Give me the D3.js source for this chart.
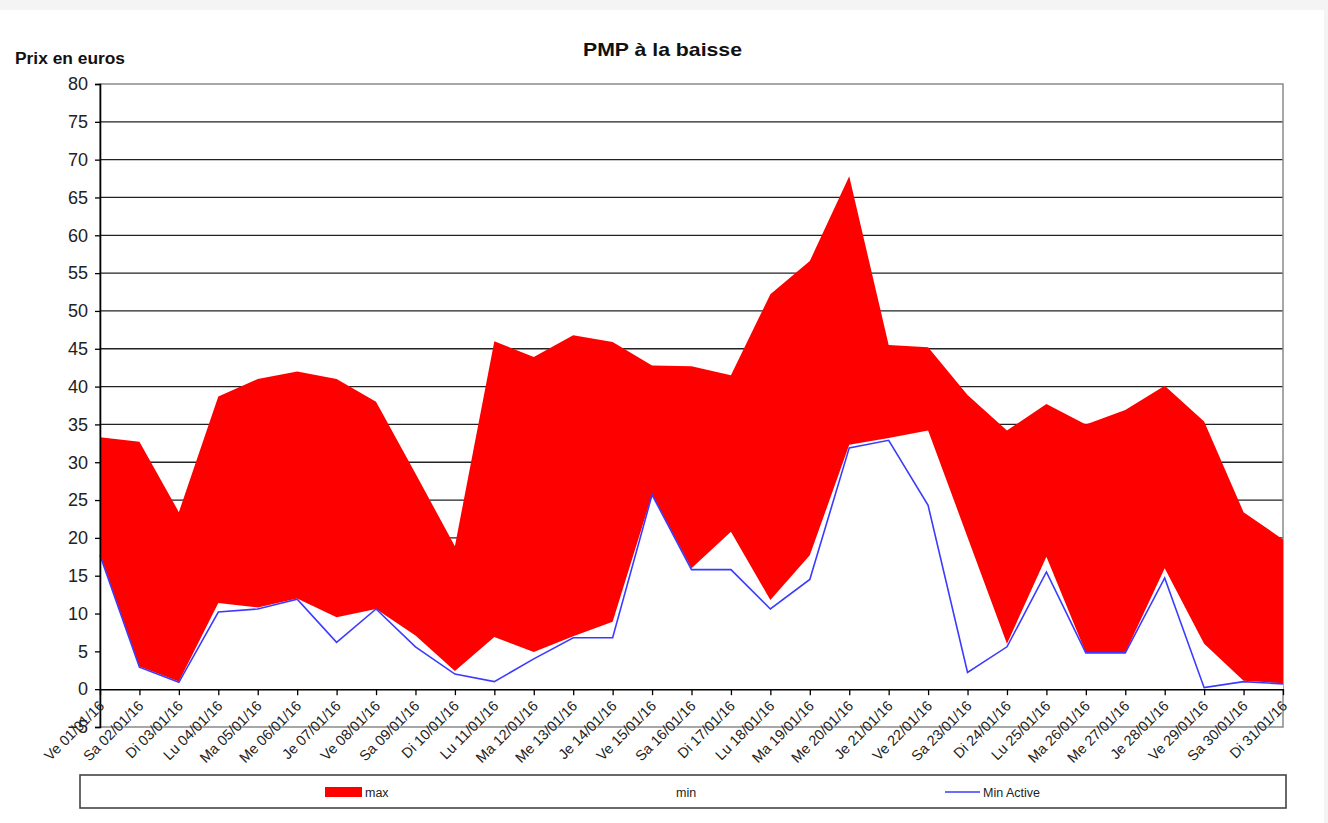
<!DOCTYPE html>
<html>
<head>
<meta charset="utf-8">
<script src="https://cdn.jsdelivr.net/npm/d3@7"></script>
<style>
  body { margin: 0; background: #f4f4f4; }
  svg { display: block; font-family: "Liberation Sans", Arial, sans-serif; }
</style>
</head>
<body>
<svg id="chart" width="1328" height="823"></svg>
<script>
const days = ["Ve 01/01/16", "Sa 02/01/16", "Di 03/01/16", "Lu 04/01/16", "Ma 05/01/16",
    "Me 06/01/16", "Je 07/01/16", "Ve 08/01/16", "Sa 09/01/16", "Di 10/01/16",
    "Lu 11/01/16", "Ma 12/01/16", "Me 13/01/16", "Je 14/01/16", "Ve 15/01/16",
    "Sa 16/01/16", "Di 17/01/16", "Lu 18/01/16", "Ma 19/01/16", "Me 20/01/16",
    "Je 21/01/16", "Ve 22/01/16", "Sa 23/01/16", "Di 24/01/16", "Lu 25/01/16",
    "Ma 26/01/16", "Me 27/01/16", "Je 28/01/16", "Ve 29/01/16", "Sa 30/01/16",
    "Di 31/01/16"]
const maxValues = [33.3, 32.7, 23.4, 38.7, 41.0, 42.0, 41.0, 38.0, 28.5, 18.9,
    46.0, 43.9, 46.8, 45.9, 42.8, 42.7, 41.5, 52.2, 56.6, 67.8,
    45.5, 45.2, 38.9, 34.2, 37.7, 35.0, 36.9, 40.1, 35.4, 23.4, 19.8]
const minValues = [17.8, 3.0, 1.0, 11.4, 10.8, 12.0, 9.5, 10.6, 7.1, 2.4,
    6.9, 4.9, 7.0, 8.9, 25.7, 16.0, 20.8, 11.8, 17.7, 32.3,
    33.2, 34.2, 20.1, 6.0, 17.5, 4.8, 4.8, 16.0, 6.0, 1.1, 0.8]
const minActive = [17.7, 2.9, 0.9, 10.2, 10.6, 11.9, 6.2, 10.6, 5.6, 2.0,
    1.0, 4.0, 6.8, 6.8, 25.7, 15.8, 15.8, 10.6, 14.5, 31.9,
    32.9, 24.3, 2.2, 5.6, 15.5, 4.8, 4.8, 14.7, 0.2, 1.0, 0.7]
const yTicks = [-5, 0, 5, 10, 15, 20, 25, 30, 35, 40, 45, 50, 55, 60, 65, 70, 75, 80]

const data = days.map((d, i) => ({ day: d, max: maxValues[i], min: minValues[i], active: minActive[i] }))

const svg = d3.select("#chart")
const plotLeft = 100, plotRight = 1283, plotTop = 84, plotBottom = 727

svg.append("rect")
    .attr("x", 0).attr("y", 10)
    .attr("width", 1324).attr("height", 813)
    .attr("fill", "#fff")

const x = d3.scalePoint().domain(days).range([plotLeft, plotRight])
const y = d3.scaleLinear().domain([-5, 80]).range([plotBottom, plotTop])

// gridlines
svg.append("g")
    .selectAll("line")
    .data(yTicks.filter(t => t > 0 && t < 80))
    .join("line")
    .attr("x1", plotLeft).attr("x2", plotRight)
    .attr("y1", d => y(d)).attr("y2", d => y(d))
    .attr("stroke", "#222")
    .attr("stroke-width", 1.3)

// plot border
svg.append("rect")
    .attr("x", plotLeft).attr("y", plotTop)
    .attr("width", plotRight - plotLeft).attr("height", plotBottom - plotTop)
    .attr("fill", "none")
    .attr("stroke", "#8a8a8a")
    .attr("stroke-width", 1.5)

const area = key => d3.area()
    .x(d => x(d.day))
    .y0(y(0))
    .y1(d => y(d[key]))

svg.append("path")
    .datum(data)
    .attr("fill", "#ff0000")
    .attr("d", area("max"))

svg.append("path")
    .datum(data)
    .attr("fill", "#ffffff")
    .attr("d", area("min"))

svg.append("path")
    .datum(data)
    .attr("fill", "none")
    .attr("stroke", "#3b3bff")
    .attr("stroke-width", 1.6)
    .attr("d", d3.line().x(d => x(d.day)).y(d => y(d.active)))

// y axis
const yAxis = svg.append("g")
    .attr("transform", `translate(${plotLeft},0)`)
    .call(d3.axisLeft(y).tickValues(yTicks).tickSize(5).tickPadding(7))
yAxis.select(".domain").attr("stroke", "#000").attr("stroke-width", 1.6)
yAxis.selectAll(".tick line").attr("stroke", "#000").attr("stroke-width", 1.3)
yAxis.selectAll(".tick text")
    .attr("font-size", 18)
    .attr("font-family", "'Liberation Sans', Arial, sans-serif")
    .attr("fill", "#222")

// x axis at zero
const xAxis = svg.append("g")
    .attr("transform", `translate(0,${y(0)})`)
    .call(d3.axisBottom(x).tickSize(6).tickSizeOuter(0))
xAxis.select(".domain").attr("stroke", "#000").attr("stroke-width", 1.6)
xAxis.selectAll(".tick line").attr("stroke", "#000").attr("stroke-width", 1.3)
xAxis.selectAll(".tick text")
    .attr("font-size", 14.5)
    .attr("font-family", "'Liberation Sans', Arial, sans-serif")
    .attr("fill", "#222")
    .attr("text-anchor", "end")
    .attr("transform", "translate(1,14) rotate(-45)")
    .attr("dy", "0.35em")
    .attr("y", 0)

// titles
svg.append("text")
    .attr("x", 583).attr("y", 56)
    .attr("font-size", 19).attr("font-weight", "bold")
    .attr("textLength", 159).attr("lengthAdjust", "spacingAndGlyphs")
    .attr("fill", "#111")
    .text("PMP à la baisse")

svg.append("text")
    .attr("x", 15).attr("y", 64)
    .attr("font-size", 16).attr("font-weight", "bold")
    .attr("textLength", 110).attr("lengthAdjust", "spacingAndGlyphs")
    .attr("fill", "#111")
    .text("Prix en euros")

// legend
const legend = svg.append("g")
legend.append("rect")
    .attr("x", 80).attr("y", 775)
    .attr("width", 1206).attr("height", 33)
    .attr("fill", "#fff")
    .attr("stroke", "#444")
    .attr("stroke-width", 1.6)
legend.append("rect")
    .attr("x", 325).attr("y", 787)
    .attr("width", 37).attr("height", 10)
    .attr("fill", "#ff0000")
legend.append("line")
    .attr("x1", 945).attr("x2", 980)
    .attr("y1", 792).attr("y2", 792)
    .attr("stroke", "#3b3bff").attr("stroke-width", 1.6)
const legendText = [["max", 365], ["min", 676], ["Min Active", 983]]
legend.selectAll("text.lg")
    .data(legendText)
    .join("text")
    .attr("class", "lg")
    .attr("x", d => d[1]).attr("y", 796.5)
    .attr("font-size", 12.5)
    .attr("fill", "#222")
    .text(d => d[0])
</script>
</body>
</html>
